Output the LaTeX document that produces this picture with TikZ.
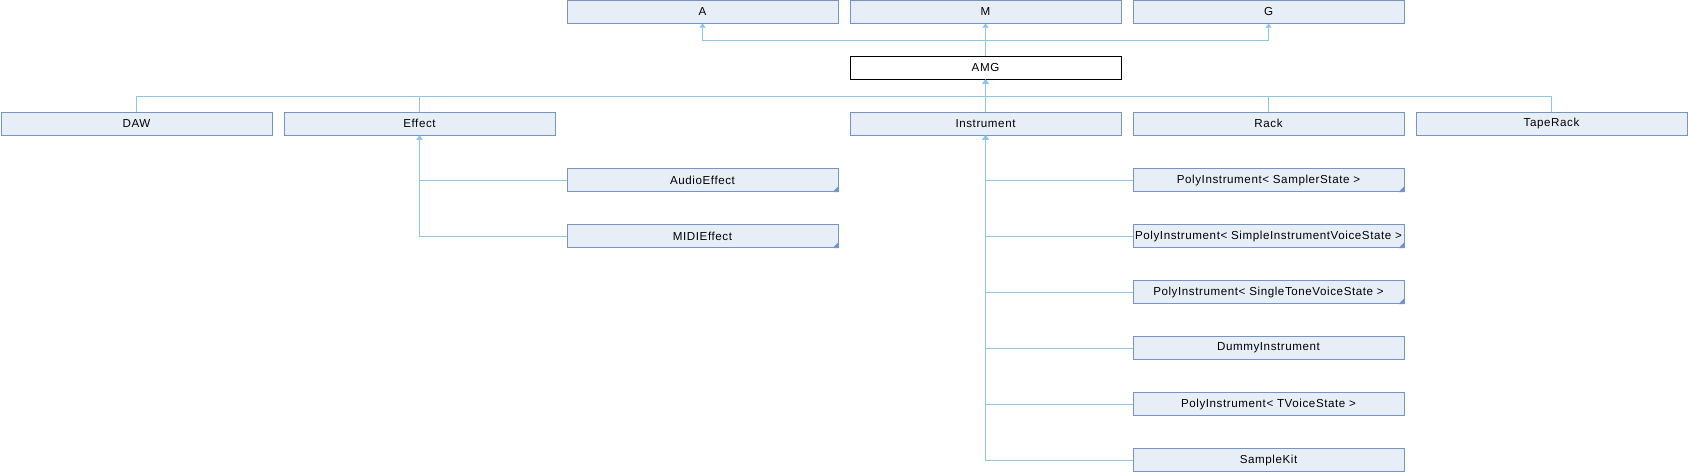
\documentclass[tikz,border=0pt]{standalone}
\usepackage{fontspec}
\setmainfont{Liberation Sans}
\newfontfamily\dfont[LetterSpace=5]{Liberation Sans}
\usetikzlibrary{arrows.meta}
\definecolor{boxfill}{HTML}{E8EEF7}
\definecolor{boxdraw}{HTML}{7496C6}
\definecolor{edgecol}{HTML}{8EC6EA}
\begin{document}
\begin{tikzpicture}[x=1pt,y=-1pt,
  cls/.style={draw=boxdraw, fill=boxfill, line width=1pt, minimum width=271pt, minimum height=23pt, inner sep=0pt, font=\dfont\fontsize{11.6}{13}\selectfont},
  cur/.style={cls, draw=black, fill=white},
  inh/.style={draw=edgecol, line width=1pt, -{Triangle[length=4pt,width=6pt]}},
  more/.style={fill=boxdraw}]
\useasboundingbox (0,0) rectangle (1688,472);
% top row
\node[cls] (a) at (702.5,11.5) {A};
\node[cls] (m) at (985.5,11.5) {M};
\node[cls] (g) at (1268.5,11.5) {G};
\node[cur] (amg) at (985.5,67.5) {AMG};
% second row
\node[cls] (daw) at (136.5,123.5) {DAW};
\node[cls] (effect) at (419.5,123.5) {Effect};
\node[cls] (instr) at (985.5,123.5) {Instrument};
\node[cls] (rack) at (1268.5,123.5) {Rack};
\node[cls] (tape) at (1551.5,123.5) {TapeRack};
% effect children
\node[cls] (ae) at (702.5,180) {AudioEffect};
\node[cls] (me) at (702.5,236) {MIDIEffect};
% instrument children
\node[cls] (p1) at (1268.5,180) {PolyInstrument< SamplerState >};
\node[cls] (p2) at (1268.5,236) {PolyInstrument< SimpleInstrumentVoiceState >};
\node[cls] (p3) at (1268.5,292) {PolyInstrument< SingleToneVoiceState >};
\node[cls] (dummy) at (1268.5,348) {DummyInstrument};
\node[cls] (p4) at (1268.5,404) {PolyInstrument< TVoiceState >};
\node[cls] (kit) at (1268.5,460) {SampleKit};
% corner markers
\foreach \n in {ae,me,p1,p2,p3}{
  \fill[more] (\n.south east) -- ++(-6,0) -- ++(6,-6) -- cycle;
}
% edges to parents of AMG
\coordinate (top) at (985.5,40.5);
\draw[inh] (amg.north) -- (m.south);
\draw[inh] (amg.north) -- (top) -| (a.south);
\draw[inh] (amg.north) -- (top) -| (g.south);
% edges to AMG
\coordinate (bus) at (985.5,96.5);
\foreach \n in {daw,effect,rack,tape}{
  \draw[inh] (\n.north) |- (bus) -- (amg.south);
}
\draw[inh] (instr.north) -- (amg.south);
% effect children
\foreach \n in {ae,me}{
  \draw[inh] (\n.west) -| (effect.south);
}
% instrument children
\foreach \n in {p1,p2,p3,dummy,p4,kit}{
  \draw[inh] (\n.west) -| (instr.south);
}
\end{tikzpicture}
\end{document}
